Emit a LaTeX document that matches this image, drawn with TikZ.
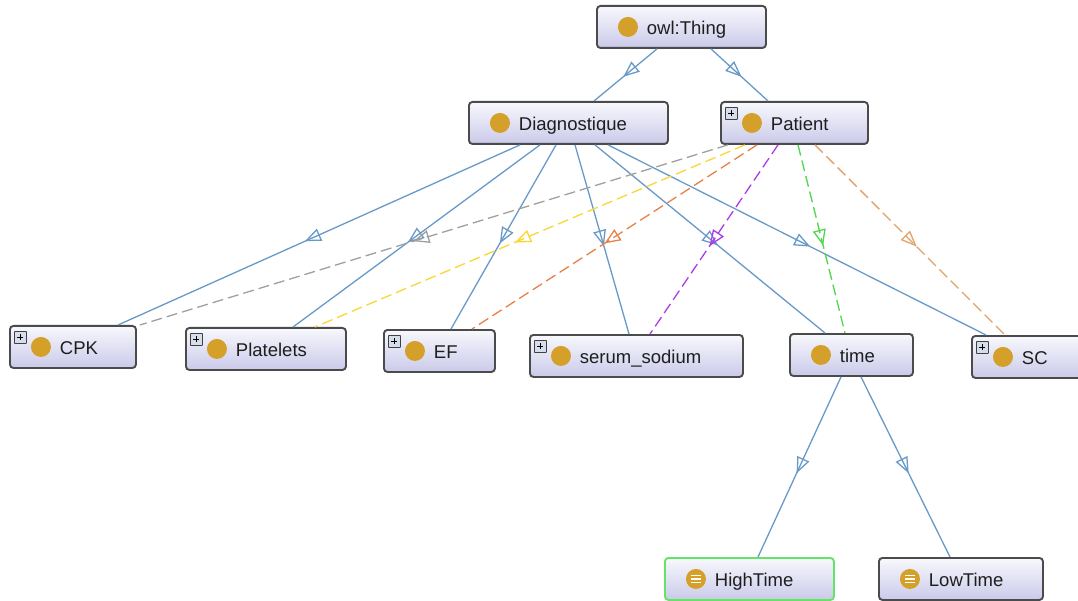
\documentclass[tikz,border=0pt]{standalone}
\usepackage{fontspec}
\setmainfont{Liberation Sans}
\usetikzlibrary{arrows.meta,decorations.markings}
\definecolor{gold}{RGB}{212,160,42}
\definecolor{edgeblue}{RGB}{104,154,200}
\definecolor{nodeborder}{RGB}{75,75,75}
\definecolor{ntop}{RGB}{248,248,253}
\definecolor{nbot}{RGB}{202,202,234}
\definecolor{egray}{RGB}{160,160,160}
\definecolor{eyellow}{RGB}{250,215,50}
\definecolor{eorange}{RGB}{230,130,70}
\definecolor{epurple}{RGB}{172,60,232}
\definecolor{egreen}{RGB}{80,215,80}
\definecolor{etan}{RGB}{226,162,108}
\definecolor{hlgreen}{RGB}{100,228,100}
\definecolor{txt}{RGB}{30,30,30}
\definecolor{plusfill}{RGB}{215,222,235}
\tikzset{
  cls/.style={draw=nodeborder, line width=1.9pt, rounded corners=3.5pt,
    top color=ntop, bottom color=nbot, anchor=north west,
    minimum height=42pt, text width=#1, inner xsep=0pt, align=left,
    text height=16pt, text depth=0pt,
    font=\fontsize{18.5}{20}\selectfont, text=txt,
    path picture={\fill[gold] ([xshift=31pt]path picture bounding box.west) circle (10pt);}},
  clsplus/.style={cls=#1,
    path picture={
      \fill[gold] ([xshift=31pt]path picture bounding box.west) circle (10pt);
      \draw[line width=0.8pt, draw=black!75, fill=plusfill, rounded corners=0.5pt]
        ([xshift=4.5pt,yshift=-5.5pt]path picture bounding box.north west) rectangle ++(12pt,-12pt);
      \draw[line width=1.3pt, black]
        ([xshift=7.5pt,yshift=-11.5pt]path picture bounding box.north west) -- ++(6pt,0pt)
        ([xshift=10.5pt,yshift=-8.5pt]path picture bounding box.north west) -- ++(0pt,-6pt);
    }},
  clsdef/.style={cls=#1,
    path picture={
      \fill[gold] ([xshift=31pt]path picture bounding box.west) circle (10pt);
      \draw[white, line width=1.5pt]
        ([xshift=26pt,yshift=3.5pt]path picture bounding box.west) -- ++(10pt,0pt)
        ([xshift=26pt]path picture bounding box.west) -- ++(10pt,0pt)
        ([xshift=26pt,yshift=-3.5pt]path picture bounding box.west) -- ++(10pt,0pt);
    }},
  sub/.style={draw=#1, line width=1.3pt, postaction={decorate},
    decoration={markings, mark=at position 0.535 with
      {\arrow[#1]{Triangle[open,length=16pt,width=13pt,line width=1.3pt]}}}},
  subd/.style={sub=#1, dash pattern=on 11pt off 5pt},
}
\begin{document}
\begin{tikzpicture}[x=1pt,y=-1pt]
\useasboundingbox (0,0) rectangle (1078,601);
\clip (0,0) rectangle (1078,601);
\fill[white] (0,0) rectangle (1078,601);

% nodes
\node[cls=169pt]      (T)  at (596,5)   {\hspace*{50pt}owl:Thing};
\node[cls=199pt]      (D)  at (468,101) {\hspace*{50pt}Diagnostique};
\node[clsplus=147pt]  (P)  at (720,101) {\hspace*{50pt}Patient};
\node[clsplus=126pt]  (C)  at (9,325)   {\hspace*{50pt}CPK};
\node[clsplus=160pt]  (Pl) at (185,327) {\hspace*{50pt}Platelets};
\node[clsplus=111pt]  (E)  at (383,329) {\hspace*{50pt}EF};
\node[clsplus=213pt]  (S)  at (529,334) {\hspace*{50pt}serum\_sodium};
\node[cls=123pt]      (Ti) at (789,333) {\hspace*{50pt}time};
\node[clsplus=130pt]  (SC) at (971,335) {\hspace*{50pt}SC};
\node[clsdef=169pt, draw=hlgreen] (H) at (664,557) {\hspace*{50pt}HighTime};
\node[clsdef=164pt]   (L)  at (878,557) {\hspace*{50pt}LowTime};

% owl:Thing subclasses
\draw[sub=edgeblue] ([xshift=61pt]T.south west) -- ([xshift=126pt]D.north west);
\draw[sub=edgeblue] ([xshift=115pt]T.south west) -- ([xshift=48pt]P.north west);

% Diagnostique subclasses
\draw[sub=edgeblue] ([xshift=52pt]D.south west)  -- ([xshift=109pt]C.north west);
\draw[sub=edgeblue] ([xshift=72pt]D.south west)  -- ([xshift=108pt]Pl.north west);
\draw[sub=edgeblue] ([xshift=88pt]D.south west)  -- ([xshift=68pt]E.north west);
\draw[sub=edgeblue] ([xshift=107pt]D.south west) -- ([xshift=100pt]S.north west);
\draw[sub=edgeblue] ([xshift=127pt]D.south west) -- ([xshift=36pt]Ti.north west);
\draw[sub=edgeblue] ([xshift=140pt]D.south west) -- ([xshift=15pt]SC.north west);

% Patient relations (dashed)
\draw[subd=egray]    ([xshift=8pt]P.south west)  -- ([xshift=3pt]C.north east);
\draw[subd=eyellow]  ([xshift=25pt]P.south west) -- ([xshift=130pt]Pl.north west);
\draw[subd=eorange]  ([xshift=37pt]P.south west) -- ([xshift=89pt]E.north west);
\draw[subd=epurple]  ([xshift=58pt]P.south west) -- ([xshift=121pt]S.north west);
\draw[subd=egreen]   ([xshift=78pt]P.south west) -- ([xshift=56pt]Ti.north west);
\draw[subd=etan]     ([xshift=95pt]P.south west) -- ([xshift=34pt]SC.north west);

% time subclasses
\draw[sub=edgeblue] ([xshift=52pt]Ti.south west) -- ([xshift=94pt]H.north west);
\draw[sub=edgeblue] ([xshift=72pt]Ti.south west) -- ([xshift=72pt]L.north west);
\end{tikzpicture}
\end{document}
